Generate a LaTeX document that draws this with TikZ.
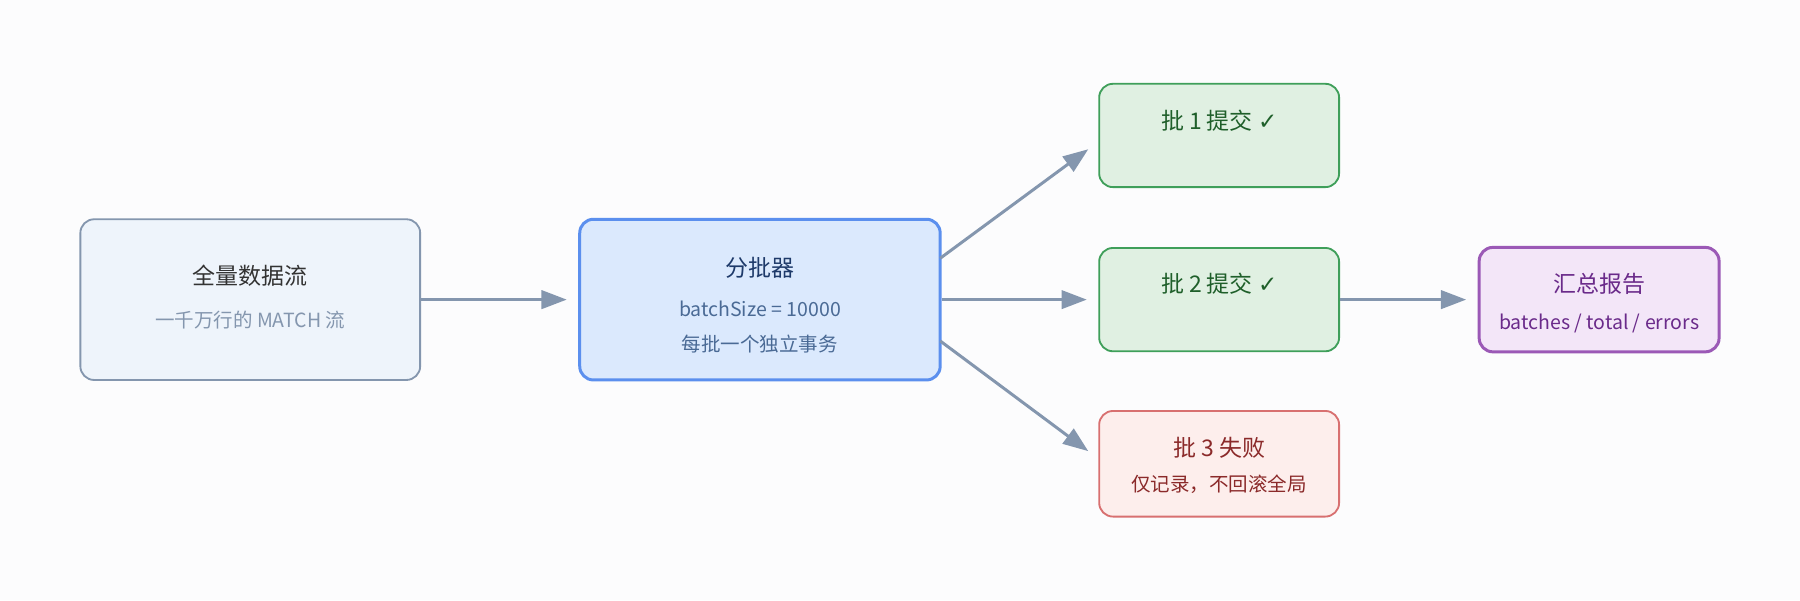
\documentclass[tikz,border=0pt]{standalone}
\usepackage{fontspec}
\setmainfont{Noto Sans CJK SC}
\newfontfamily\symfont{DejaVu Sans}
\usetikzlibrary{arrows.meta,positioning}
\definecolor{edgegray}{HTML}{8496AE}
\definecolor{srcfill}{HTML}{EEF4FB}
\definecolor{splitfill}{HTML}{DBE9FD}
\definecolor{splitline}{HTML}{5B8FEE}
\definecolor{okfill}{HTML}{E0F0E2}
\definecolor{okline}{HTML}{3F9F5A}
\definecolor{oktext}{HTML}{1F5F2A}
\definecolor{badfill}{HTML}{FDEEEC}
\definecolor{badline}{HTML}{D87070}
\definecolor{badtext}{HTML}{8B2A2A}
\definecolor{sumfill}{HTML}{F3E6F8}
\definecolor{sumline}{HTML}{9B59B6}
\definecolor{sumtext}{HTML}{6A2A8A}
\newcommand{\chk}{{\symfont ✓}}
\tikzset{
  box/.style={rounded corners=12pt,line width=1.6pt,inner sep=0pt},
  title/.style={font=\fontsize{20}{24}\selectfont},
  sub/.style={font=\fontsize{17}{21}\selectfont},
  flow/.style={-{Triangle[length=22pt,width=16pt]},line width=2.6pt,edgegray,shorten >=0pt}
}
\begin{document}
\begin{tikzpicture}[x=1pt,y=1pt]
\useasboundingbox[fill={rgb,255:red,252;green,252;blue,253}] (0,0) rectangle (1568,523);

\node[box,draw=edgegray,fill=srcfill,minimum width=296pt,minimum height=140pt] (src) at (218,262) {};
\node[box,draw=splitline,fill=splitfill,line width=2.6pt,minimum width=314pt,minimum height=140pt] (split) at (662,262) {};
\node[box,draw=okline,fill=okfill,minimum width=209pt,minimum height=90pt] (b1) at (1062,405) {};
\node[box,draw=okline,fill=okfill,minimum width=209pt,minimum height=90pt] (b2) at (1062,262) {};
\node[box,draw=badline,fill=badfill,minimum width=209pt,minimum height=92pt] (b3) at (1062,119) {};
\node[box,draw=sumline,fill=sumfill,line width=2.6pt,minimum width=209pt,minimum height=91pt] (sum) at (1393,262) {};

\node[title,text=black!80] (srcT) at (218,283) {全量数据流};
\node[sub,text=edgegray] (srcS) at (218,244) {一千万行的 MATCH 流};
\node[title,text={rgb,255:red,30;green,58;blue,106}] (splitT) at (662,290) {分批器};
\node[sub,text={rgb,255:red,74;green,106;blue,149}] (splitS) at (662,254) {batchSize = 10000};
\node[sub,text={rgb,255:red,74;green,106;blue,149}] (splitU) at (662,223) {每批一个独立事务};
\node[title,text=oktext] (b1T) at (1062,418) {批 1 提交 \chk};
\node[title,text=oktext] (b2T) at (1062,276) {批 2 提交 \chk};
\node[title,text=badtext] (b3T) at (1062,133) {批 3 失败};
\node[sub,text=badtext] (b3S) at (1062,101) {仅记录，不回滚全局};
\node[title,text=sumtext] (sumT) at (1393,276) {汇总报告};
\node[sub,text=sumtext] (sumS) at (1393,241) {batches / total / errors};

\coordinate (s1) at (819,298);
\coordinate (s3) at (819,226);
\coordinate (e1) at (948,393);
\coordinate (e3) at (948,130);

\draw[flow] (src.east) -- ([xshift=-10pt]split.west);
\draw[flow] (s1) -- (e1);
\draw[flow] (split.east) -- ([xshift=-10pt]b2.west);
\draw[flow] (s3) -- (e3);
\draw[flow] (b2.east) -- ([xshift=-10pt]sum.west);
\end{tikzpicture}
\end{document}
